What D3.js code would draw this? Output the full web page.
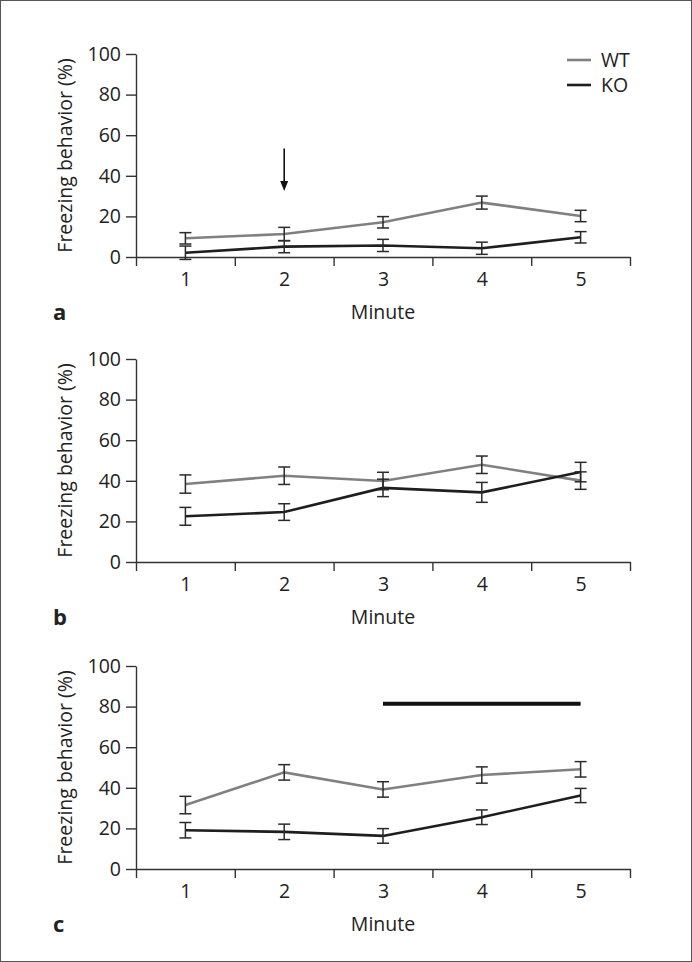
<!DOCTYPE html>
<html>
<head>
<meta charset="utf-8">
<script src="https://cdn.jsdelivr.net/npm/d3@7"></script>
<style>
  body { margin: 0; background: #fff; }
  text { font-family: "Open Sans", sans-serif; fill: #222; }
</style>
</head>
<body>
<script>
var minutes = [1, 2, 3, 4, 5];
var yTicks = [0, 20, 40, 60, 80, 100];
var panelLetters = ["a", "b", "c"];

var wtA = [9.2, 11.3, 17.1, 26.8, 20.2];
var wtAErr = [2.8, 3.3, 2.8, 3.2, 2.8];
var koA = [2.1, 5.1, 5.7, 4.3, 9.7];
var koAErr = [3.3, 3.0, 3.0, 3.0, 2.8];

var wtB = [38.4, 42.5, 39.9, 47.9, 40.1];
var wtBErr = [4.5, 4.3, 4.3, 4.3, 4.3];
var koB = [22.5, 24.6, 36.5, 34.3, 44.3];
var koBErr = [4.4, 4.1, 4.3, 4.9, 4.8];

var wtC = [31.5, 47.6, 39.2, 46.3, 49.1];
var wtCErr = [4.3, 3.8, 3.8, 4.0, 3.8];
var koC = [19.1, 18.3, 16.3, 25.5, 36.2];
var koCErr = [3.8, 3.8, 3.6, 3.6, 3.5];

// arrow in panel a (minute, from, to) and bar in panel c (from, to, level)
var arrowA = [2, 53.5, 32.5];
var barC = [3, 5, 81.4];

var seriesNames = ["WT", "KO"];
var seriesColors = ["#808080", "#1e1e1e"];

var width = 692, height = 962;
var left = 136, right = 630;
var plotHeight = 203;
var panelTops = [54, 359, 666];

var svg = d3.select("body").append("svg")
  .attr("width", width)
  .attr("height", height);

svg.append("rect")
  .attr("x", 0.5).attr("y", 0.5)
  .attr("width", width - 1).attr("height", height - 1)
  .attr("fill", "#fff")
  .attr("stroke", "#555");

var x = d3.scaleLinear().domain([0.5, 5.5]).range([left, right]);
var y = d3.scaleLinear().domain([0, 100]).range([plotHeight, 0]);

var panels = [
  { wt: wtA, wtErr: wtAErr, ko: koA, koErr: koAErr },
  { wt: wtB, wtErr: wtBErr, ko: koB, koErr: koBErr },
  { wt: wtC, wtErr: wtCErr, ko: koC, koErr: koCErr }
];

var line = d3.line()
  .x(function(d) { return x(d.m); })
  .y(function(d) { return y(d.v); });

panels.forEach(function(p, i) {
  var g = svg.append("g")
    .attr("transform", "translate(0," + panelTops[i] + ")");

  // y axis
  var yAxis = g.append("g")
    .attr("transform", "translate(" + left + ",0)")
    .call(d3.axisLeft(y).tickValues(yTicks).tickSize(10).tickPadding(5).tickSizeOuter(0));

  // x axis: ticks between minutes, labels at minutes
  var xAxis = g.append("g")
    .attr("transform", "translate(0," + plotHeight + ")")
    .call(d3.axisBottom(x).tickValues([0.5, 1.5, 2.5, 3.5, 4.5, 5.5])
      .tickFormat("").tickSize(9).tickSizeOuter(0));

  var xLabels = g.append("g")
    .attr("transform", "translate(0," + plotHeight + ")")
    .call(d3.axisBottom(x).tickValues(minutes).tickFormat(d3.format("d"))
      .tickSize(0).tickPadding(15));
  xLabels.select(".domain").remove();

  [yAxis, xAxis, xLabels].forEach(function(a) {
    a.selectAll("path, line").attr("stroke", "#333").attr("stroke-width", 1.4);
    a.selectAll("text").style("font-family", "'Open Sans', sans-serif")
      .style("font-size", "19.5px").attr("fill", "#222");
  });

  g.append("text")
    .attr("transform", "rotate(-90)")
    .attr("x", -plotHeight / 2)
    .attr("y", 65)
    .attr("dy", "0.35em")
    .style("text-anchor", "middle")
    .style("font-size", "19.5px")
    .text("Freezing behavior (%)");

  g.append("text")
    .attr("x", x(3))
    .attr("y", plotHeight + 55)
    .attr("dy", "0.35em")
    .style("text-anchor", "middle")
    .style("font-size", "19.5px")
    .text("Minute");

  g.append("text")
    .attr("x", 53)
    .attr("y", plotHeight + 55)
    .attr("dy", "0.35em")
    .style("font-size", "22px")
    .style("font-weight", "bold")
    .text(panelLetters[i]);

  var sets = [
    { vals: p.wt, errs: p.wtErr, color: seriesColors[0] },
    { vals: p.ko, errs: p.koErr, color: seriesColors[1] }
  ];

  sets.forEach(function(s) {
    var pts = minutes.map(function(m, k) { return { m: m, v: s.vals[k], e: s.errs[k] }; });
    g.append("path")
      .datum(pts)
      .attr("d", line)
      .attr("fill", "none")
      .attr("stroke", s.color)
      .attr("stroke-width", 2.6);
  });

  sets.forEach(function(s) {
    var pts = minutes.map(function(m, k) { return { m: m, v: s.vals[k], e: s.errs[k] }; });
    var eb = g.append("g").selectAll("g").data(pts).enter().append("g")
      .attr("stroke", "#2a2a2a").attr("stroke-width", 1.5);
    eb.append("line")
      .attr("x1", function(d) { return x(d.m); })
      .attr("x2", function(d) { return x(d.m); })
      .attr("y1", function(d) { return y(d.v - d.e); })
      .attr("y2", function(d) { return y(d.v + d.e); });
    eb.append("line")
      .attr("x1", function(d) { return x(d.m) - 6; })
      .attr("x2", function(d) { return x(d.m) + 6; })
      .attr("y1", function(d) { return y(d.v + d.e); })
      .attr("y2", function(d) { return y(d.v + d.e); });
    eb.append("line")
      .attr("x1", function(d) { return x(d.m) - 6; })
      .attr("x2", function(d) { return x(d.m) + 6; })
      .attr("y1", function(d) { return y(d.v - d.e); })
      .attr("y2", function(d) { return y(d.v - d.e); });
  });

  if (i === 0) {
    // legend
    seriesNames.forEach(function(name, k) {
      var ly = 6 + k * 25;
      g.append("line")
        .attr("x1", 567).attr("x2", 591)
        .attr("y1", ly).attr("y2", ly)
        .attr("stroke", seriesColors[k])
        .attr("stroke-width", 2.6);
      g.append("text")
        .attr("x", 601).attr("y", ly)
        .attr("dy", "0.35em")
        .style("font-size", "19.5px")
        .text(name);
    });

    // arrow
    var ax = x(arrowA[0]);
    g.append("line")
      .attr("x1", ax).attr("x2", ax)
      .attr("y1", y(arrowA[1])).attr("y2", y(arrowA[2]) - 8)
      .attr("stroke", "#111").attr("stroke-width", 1.6);
    g.append("path")
      .attr("d", "M" + (ax - 4) + "," + (y(arrowA[2]) - 10) +
        "L" + (ax + 4) + "," + (y(arrowA[2]) - 10) +
        "L" + ax + "," + y(arrowA[2]) + "Z")
      .attr("fill", "#111");
  }

  if (i === 2) {
    g.append("line")
      .attr("x1", x(barC[0])).attr("x2", x(barC[1]))
      .attr("y1", y(barC[2])).attr("y2", y(barC[2]))
      .attr("stroke", "#111").attr("stroke-width", 4);
  }
});
</script>
</body>
</html>
